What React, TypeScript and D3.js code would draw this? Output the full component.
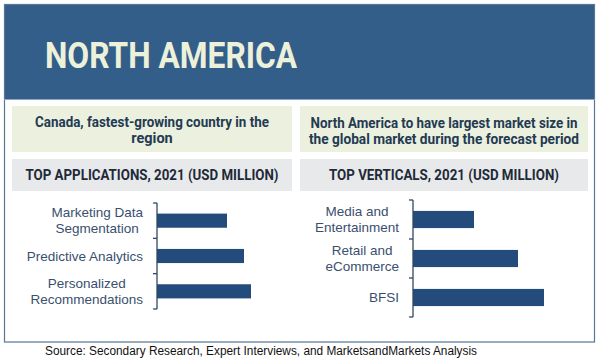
import React, { useEffect, useRef } from "react";
import * as d3 from "d3";

const title = "NORTH AMERICA";
const leftNote = ["Canada, fastest-growing country in the", "region"];
const rightNote = ["North America to have largest market size in", "the global market  during the forecast period"];
const leftHeading = "TOP APPLICATIONS, 2021 (USD MILLION)";
const rightHeading = "TOP VERTICALS, 2021 (USD MILLION)";
const appCategories = [
  ["Marketing Data", "Segmentation"],
  ["Predictive Analytics"],
  ["Personalized", "Recommendations"],
];
const appValues = [70, 87, 94];
const verticalCategories = [
  ["Media and", "Entertainment"],
  ["Retail and", "eCommerce"],
  ["BFSI"],
];
const verticalValues = [61, 105, 131];
const source = "Source: Secondary Research, Expert Interviews, and MarketsandMarkets Analysis";

const W = 599;
const H = 364;
const COND = "Roboto, 'Liberation Sans', sans-serif";
const BODY = "'Liberation Sans', 'Open Sans', sans-serif";

export default function App() {
  const ref = useRef<SVGSVGElement | null>(null);

  useEffect(() => {
    const svg = d3.select(ref.current);
    svg.selectAll("*").remove();

    // fit a text to a target width (condensed look)
    const fit = (sel: any, width: number) => {
      const w = (sel.node() as SVGTextElement).getComputedTextLength();
      if (w > width) sel.attr("textLength", width).attr("lengthAdjust", "spacingAndGlyphs");
      return sel;
    };

    svg.append("rect").attr("width", W).attr("height", H).attr("fill", "#ffffff");

    // outer frame and header
    svg.append("rect").attr("x", 4).attr("y", 4).attr("width", 591).attr("height", 95).attr("fill", "#335E8A");
    svg.append("rect").attr("x", 4.5).attr("y", 4.5).attr("width", 590).attr("height", 337.5)
      .attr("fill", "none").attr("stroke", "#5B7596").attr("stroke-width", 1.2);
    svg.append("line").attr("x1", 4).attr("x2", 595).attr("y1", 99.5).attr("y2", 99.5)
      .attr("stroke", "#8FA6C2").attr("stroke-width", 1);

    fit(
      svg.append("text").attr("x", 45).attr("y", 68).text(title)
        .attr("font-family", COND).attr("font-weight", 700).attr("font-size", 36)
        .attr("fill", "#EDF1DA"),
      252
    );

    const panels = [
      { x: 12, w: 280, note: leftNote, noteW: [234, 47], heading: leftHeading, headW: 253, noteYs: [122, 138] },
      { x: 300, w: 288, note: rightNote, noteW: [267, 270], heading: rightHeading, headW: 230, noteYs: [123, 139] },
    ];
    panels.forEach((p) => {
      svg.append("rect").attr("x", p.x).attr("y", 106).attr("width", p.w).attr("height", 46).attr("fill", "#EBF1DE");
      svg.append("rect").attr("x", p.x).attr("y", 159).attr("width", p.w).attr("height", 32).attr("fill", "#E8E9EB");
      p.note.forEach((line, i) => {
        fit(
          svg.append("text").attr("x", p.x + p.w / 2).attr("y", p.noteYs[i]).attr("dy", "0.35em")
            .attr("text-anchor", "middle").text(line)
            .attr("font-family", COND).attr("font-weight", 700).attr("font-size", 14.5)
            .attr("fill", "#243A52"),
          p.noteW[i]
        );
      });
      fit(
        svg.append("text").attr("x", p.x + p.w / 2).attr("y", 175).attr("dy", "0.35em")
          .attr("text-anchor", "middle").text(p.heading)
          .attr("font-family", COND).attr("font-weight", 700).attr("font-size", 14.5)
          .attr("fill", "#1E2A38"),
        p.headW
      );
    });

    const drawChart = (
      cats: string[][],
      vals: number[],
      axisX: number,
      y0: number,
      y1: number,
      padding: number
    ) => {
      const idx = cats.map((_, i) => String(i));
      const y = d3.scaleBand<string>().domain(idx).range([y0, y1]).paddingInner(padding).paddingOuter(padding / 2);
      const x = d3.scaleLinear().domain([0, 100]).range([axisX, axisX + 100]);
      const g = svg.append("g");
      g.selectAll("rect.bar").data(vals).join("rect")
        .attr("class", "bar")
        .attr("x", x(0))
        .attr("y", (_, i) => y(String(i)) as number)
        .attr("width", (d) => x(d) - x(0))
        .attr("height", y.bandwidth())
        .attr("fill", "#234B7C");
      const step = (y1 - y0) / cats.length;
      g.append("line").attr("x1", axisX).attr("x2", axisX).attr("y1", y0).attr("y2", y1)
        .attr("stroke", "#33475F").attr("stroke-width", 1.3);
      d3.range(cats.length + 1).forEach((k) => {
        const ty = y0 + k * step;
        g.append("line").attr("x1", axisX - 4).attr("x2", axisX).attr("y1", ty).attr("y2", ty)
          .attr("stroke", "#33475F").attr("stroke-width", 1.3);
      });
      const right = axisX - 14;
      cats.forEach((lines, i) => {
        const cy = y0 + (i + 0.5) * step;
        const lh = 16;
        const texts = lines.map((line, j) =>
          g.append("text")
            .attr("y", cy + (j - (lines.length - 1) / 2) * lh)
            .attr("dy", "0.35em")
            .attr("text-anchor", "end")
            .text(line)
            .attr("font-family", BODY).attr("font-size", 13.5)
            .attr("fill", "#3A4F6E")
        );
        const widths = texts.map((t) => (t.node() as SVGTextElement).getComputedTextLength());
        const maxW = Math.max(...widths);
        texts.forEach((t, j) => t.attr("x", right - (maxW - widths[j]) / 2));
      });
    };

    drawChart(appCategories, appValues, 157, 203, 309, 0.6);
    drawChart(verticalCategories, verticalValues, 413, 200, 317, 0.56);

    fit(
      svg.append("text").attr("x", 261).attr("y", 351).attr("dy", "0.35em").attr("text-anchor", "middle")
        .text(source).attr("font-family", BODY).attr("font-size", 12.5).attr("fill", "#111111"),
      432
    );
  }, []);

  return (
    <svg
      ref={ref}
      width={W}
      height={H}
      style={{ position: "fixed", left: 0, top: 0, display: "block" }}
    />
  );
}
